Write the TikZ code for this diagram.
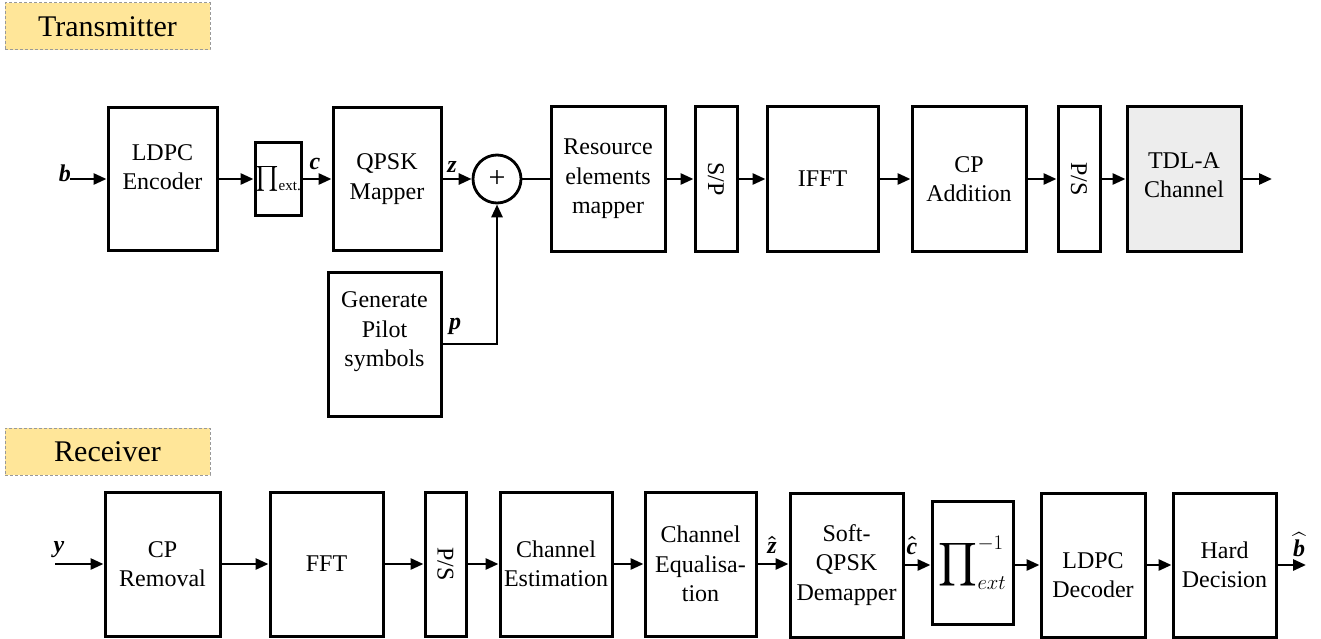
\documentclass[tikz,border=0pt]{standalone}
\usepackage{fontspec}
\setmainfont{Liberation Serif}
\usepackage{amsmath}
\usepackage{graphicx}
\usetikzlibrary{arrows.meta}
\definecolor{titlefill}{RGB}{255,230,153}
\begin{document}
\begin{tikzpicture}[x=1pt,y=-1pt,
  blk/.style={draw, line width=3pt, inner sep=0pt, align=center, font=\fontsize{24}{29.5}\selectfont},
  txt/.style={align=center, font=\fontsize{24}{29.5}\selectfont, inner sep=0pt},
  arr/.style={line width=2.8pt, -{Triangle[length=13pt,width=11pt]}},
  ln/.style={line width=2.8pt},
  lbl/.style={font=\fontsize{24}{24}\selectfont\bfseries\itshape\boldmath, inner sep=0pt},
  ttl/.style={draw=gray!80, densely dashed, line width=1pt, fill=titlefill, minimum width=205pt, minimum height=47pt, inner sep=0pt, font=\fontsize{30}{30}\selectfont}
]
\useasboundingbox (0,0) rectangle (1321,639);

% titles
\node[ttl] (tx) at (107.5,26.5) {Transmitter};
\node[ttl] (rx) at (107.5,451.5) {Receiver};

% ---------- transmitter ----------
\node[blk, minimum width=109pt, minimum height=143pt,
  label={[txt, yshift=12pt]center:LDPC\\Encoder}] (enc) at (162.5,179) {};
\node[blk, minimum width=46pt, minimum height=72pt] (intl) at (278,179)
  {{\fontsize{26}{26}\selectfont$\prod$}\raisebox{-5pt}{\fontsize{15}{15}\selectfont ext.}};
\node[blk, minimum width=108pt, minimum height=143pt] (qpsk) at (387,179) {QPSK\\Mapper};
\node[draw, circle, line width=2.8pt, minimum size=48pt, inner sep=0pt, font=\fontsize{30}{30}\selectfont] (add) at (497,179) {+};
\node[blk, minimum width=114pt, minimum height=144pt] (rem) at (608,179) {Resource\\elements\\mapper};
\node[blk, minimum width=42pt, minimum height=144pt,
  label={[txt, rotate=-90]center:S/P}] (sp) at (716,179) {};
\node[blk, minimum width=111pt, minimum height=144pt] (ifft) at (822.5,179) {IFFT};
\node[blk, minimum width=114pt, minimum height=144pt] (cpa) at (969,179) {CP\\Addition};
\node[blk, minimum width=42pt, minimum height=144pt,
  label={[txt, rotate=-90]center:P/S}] (ps1) at (1079,179) {};
\node[blk, fill=black!7, minimum width=114pt, minimum height=144pt,
  label={[txt, yshift=4pt]center:TDL-A\\Channel}] (tdl) at (1184,179) {};
\node[blk, minimum width=113pt, minimum height=144pt,
  label={[txt, yshift=12pt]center:Generate\\Pilot\\symbols}] (gen) at (384.5,344) {};

\coordinate (bin) at (70,179);
\coordinate (txout) at (1272,179);

\draw[arr] (bin) -- (enc.west);
\draw[arr] (enc) -- (intl);
\draw[arr] (intl) -- (qpsk);
\draw[arr] (qpsk) -- (add);
\draw[ln] (add) -- (rem);
\draw[arr] (rem) -- (sp);
\draw[arr] (sp) -- (ifft);
\draw[arr] (ifft) -- (cpa);
\draw[arr] (cpa) -- (ps1);
\draw[arr] (ps1) -- (tdl);
\draw[arr] (tdl.east) -- (txout);
\draw[arr] (gen.east) -| (add.south);

\node[lbl, anchor=base east] (lb) at (71,182) {b};
\node[lbl, anchor=base] (lc) at (315,170) {c};
\node[lbl, anchor=base] (lz) at (452,173) {z};
\node[lbl, anchor=base] (lp) at (455,329) {p};

% ---------- receiver ----------
\node[blk, minimum width=115pt, minimum height=144pt] (cpr) at (162.5,564) {CP\\Removal};
\node[blk, minimum width=113pt, minimum height=144pt] (fft) at (326.5,564) {FFT};
\node[blk, minimum width=41pt, minimum height=144pt,
  label={[txt, rotate=-90]center:P/S}] (ps2) at (445.5,564) {};
\node[blk, minimum width=112pt, minimum height=144pt] (ce) at (556,564) {Channel\\Estimation};
\node[blk, minimum width=111pt, minimum height=144pt] (ceq) at (700.5,564) {Channel\\Equalisa-\\tion};
\node[blk, minimum width=113pt, minimum height=144pt] (soft) at (846.5,565) {Soft-\\QPSK\\Demapper};
\node[blk, minimum width=81pt, minimum height=123pt] (inv) at (972.5,563)
  {\fontsize{36}{36}\selectfont$\mathop{\vcenter{\hbox{\scalebox{1.22}{$\displaystyle\prod$}}}}\nolimits_{\text{\fontsize{21}{21}\selectfont$ext$}}^{\text{\fontsize{20}{20}\selectfont$-1$}}$};
\node[blk, minimum width=104pt, minimum height=144pt,
  label={[txt, yshift=-10pt]center:LDPC\\Decoder}] (dec) at (1093,565) {};
\node[blk, minimum width=103pt, minimum height=144pt] (hd) at (1224.5,565) {Hard\\Decision};

\coordinate (rxin) at (55,564);
\coordinate (rxout) at (1306,565);

\draw[arr] (rxin) -- (cpr.west);
\draw[arr] (cpr) -- (fft);
\draw[arr] (fft) -- (ps2);
\draw[arr] (ps2) -- (ce);
\draw[arr] (ce) -- (ceq);
\draw[arr] (ceq.east) -- (ceq.east -| soft.west);
\draw[arr] (soft.east) -- (soft.east -| inv.west);
\draw[arr] (inv.east |- dec.west) -- (dec.west);
\draw[arr] (dec) -- (hd);
\draw[arr] (hd.east) -- (rxout);

\node[lbl, anchor=base] (ly) at (59,552) {y};
\node[lbl, anchor=base] (lzh) at (772,553) {$\hat{\text{z}}$};
\node[lbl, anchor=base] (lch) at (912,554) {$\hat{\text{c}}$};
\node[lbl, anchor=base] (lbh) at (1299,556) {$\widehat{\text{b}}$};
\end{tikzpicture}
\end{document}
